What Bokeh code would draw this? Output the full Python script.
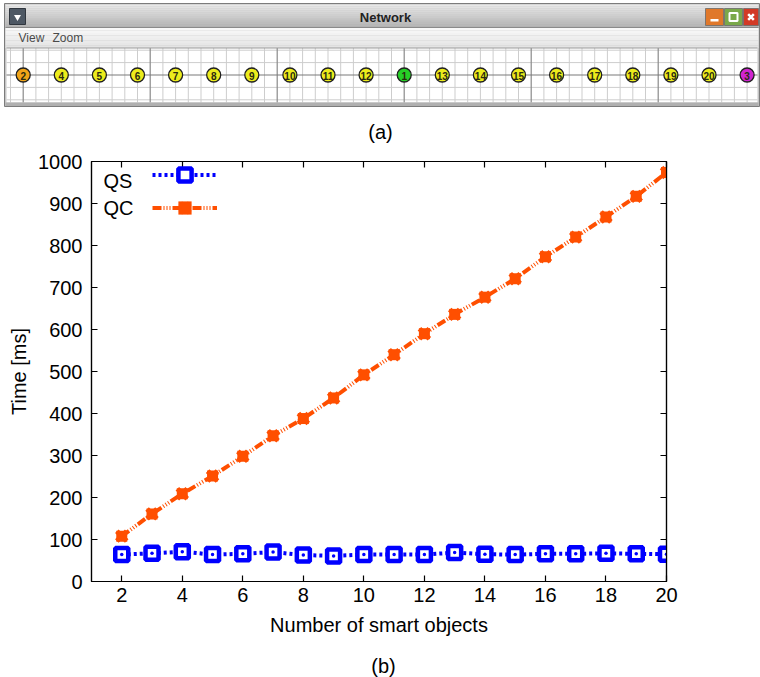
import numpy as np
from bokeh.plotting import figure
from bokeh.models import Range1d, LinearAxis, FixedTicker, Legend, LegendItem, Label
from bokeh.core.properties import value
from bokeh.embed import file_html
from bokeh.resources import INLINE

# ---------------- data ----------------
n_objects = [2, 3, 4, 5, 6, 7, 8, 9, 10, 11, 12, 13, 14, 15, 16, 17, 18, 19, 20]
qs_time = [64, 67, 71, 64, 66, 70, 63, 61, 64, 64, 64, 69, 65, 64, 66, 66, 67, 66, 65]
qc_time = [108, 161, 209, 251, 298, 347, 388, 437, 492, 540, 590, 636, 677, 721, 773, 820, 868, 917, 974]
x_ticks = [2, 4, 6, 8, 10, 12, 14, 16, 18, 20]
y_ticks = [0, 100, 200, 300, 400, 500, 600, 700, 800, 900, 1000]
series_names = ["QS", "QC"]

node_labels = ["2", "4", "5", "6", "7", "8", "9", "10", "11", "12", "1",
               "13", "14", "15", "16", "17", "18", "19", "20", "3"]
node_kind = ["first"] + ["object"] * 9 + ["gateway"] + ["object"] * 8 + ["last"]

FONT = "Liberation Sans"
BLUE = "#0000ff"
ORANGE = "#ff4f00"
kind_color = {"first": "#f0a418", "object": "#ecec1c", "gateway": "#26d026", "last": "#d024d0"}


def gradient(c0, c1, n):
    a = np.array([int(c0[i:i + 2], 16) for i in (1, 3, 5)], float)
    b = np.array([int(c1[i:i + 2], 16) for i in (1, 3, 5)], float)
    out = []
    for t in np.linspace(0, 1, n):
        c = a + (b - a) * t
        out.append("#%02x%02x%02x" % tuple(int(round(v)) for v in c))
    return out


# ---------------- (a) network window ----------------
pa = figure(width=760, height=145, x_range=Range1d(0, 760), y_range=Range1d(145, 0),
            x_axis_type=None, y_axis_type=None, toolbar_location=None,
            output_backend="svg", min_border=0)
pa.outline_line_color = None

pa.quad(left=4, right=759, top=3, bottom=106, fill_color="#c4c4c4", line_color="#7c7c7c", line_width=1)
tb = np.linspace(4, 27, 13)
pa.quad(left=5, right=758, top=tb[:-1], bottom=tb[1:], fill_color=gradient("#e8e8e8", "#b2b2b2", 12),
        line_color=None)
pa.segment(x0=[5], y0=[27], x1=[758], y1=[27], line_color="#8a8a8a", line_width=1)
pa.quad(left=9, right=25, top=8, bottom=24, fill_color="#4e5864", line_color="#30363e")
pa.scatter(x=[17], y=[16.5], marker="inverted_triangle", size=7, fill_color="white", line_color=None)
pa.quad(left=[705, 724, 743], right=[723, 742, 758], top=8, bottom=25,
        fill_color=["#e0782a", "#7aa84a", "#d23a26"], line_color="#6a6a6a", line_width=0.8)
pa.quad(left=710, right=718, top=18.5, bottom=21, fill_color="white", line_color=None)
pa.scatter(x=[733], y=[16.5], marker="square", size=8, fill_color=None, line_color="white", line_width=2)
pa.scatter(x=[750.5], y=[16.5], marker="x", size=8, line_color="white", line_width=2.5)
pa.text(x=[385], y=[16.5], text=["Network"], text_font=value(FONT), text_font_style="bold",
        text_font_size="13px", text_align="center", text_baseline="middle", text_color="#222222")
mb = np.linspace(27.5, 47.5, 9)
pa.quad(left=5, right=758, top=mb[:-1], bottom=mb[1:], fill_color=gradient("#f8f8f8", "#e4e4e4", 8),
        line_color=None)
pa.text(x=[18, 52], y=[37.5, 37.5], text=["View", "Zoom"], text_font=value(FONT),
        text_font_size="12px", text_align="left", text_baseline="middle", text_color="#4a4a4a")
pa.quad(left=6, right=757, top=47.5, bottom=102, fill_color="white", line_color=None)
step = 38.1 / 3
kk = np.arange(-1, 60)
gx = 22.7 + step * kk
keep = (gx > 6) & (gx < 757)
gx, kk = gx[keep], kk[keep]
minor_x = gx[kk % 10 != 0]
major_x = gx[kk % 10 == 0]
pa.segment(x0=minor_x, y0=47.5, x1=minor_x, y1=102, line_color="#cdcdcd", line_width=1)
gy = 74.5 + 12.4 * np.array([-2, -1, 1, 2])
pa.segment(x0=6, y0=gy, x1=757, y1=gy, line_color="#cdcdcd", line_width=1)
pa.segment(x0=major_x, y0=47.5, x1=major_x, y1=102, line_color="#8a8a8a", line_width=1.2)
pa.segment(x0=[6], y0=[74.5], x1=[757], y1=[74.5], line_color="#7a7a7a", line_width=1.2)
pa.segment(x0=[6], y0=[47.5], x1=[757], y1=[47.5], line_color="#9a9a9a", line_width=1)
pa.quad(left=5, right=758, top=102, bottom=105.5, fill_color="#b0b0b0", line_color=None)
node_x = 22.7 + 38.1 * np.arange(len(node_labels))
pa.scatter(x=node_x, y=74.5, size=14, fill_color=[kind_color[k] for k in node_kind],
           line_color="#202020", line_width=1.3)
pa.text(x=node_x, y=75, text=node_labels, text_font=value(FONT), text_font_size="10px",
        text_font_style="bold", text_align="center", text_baseline="middle", text_color="#2a2a10")
pa.text(x=[380], y=[131], text=["(a)"], text_font=value(FONT), text_font_size="20px",
        text_align="center", text_baseline="middle", text_color="black")

# ---------------- (b) timing chart ----------------
pb = figure(width=760, height=500, x_range=Range1d(1, 20), y_range=Range1d(0, 1000),
            toolbar_location=None, output_backend="svg",
            min_border_left=91, min_border_right=94, min_border_top=16, min_border_bottom=64)
pb.grid.visible = False
pb.outline_line_color = "black"
pb.outline_line_width = 1.2

bottom_ax = pb.xaxis[0]
left_ax = pb.yaxis[0]
bottom_ax.ticker = FixedTicker(ticks=x_ticks)
left_ax.ticker = FixedTicker(ticks=y_ticks)
bottom_ax.axis_label = "Number of smart objects"
left_ax.axis_label = "Time [ms]"

top_ax = LinearAxis(ticker=FixedTicker(ticks=x_ticks),
                    major_label_overrides={t: "" for t in x_ticks}, major_label_text_font_size="1px",
                    major_label_standoff=0)
right_ax = LinearAxis(ticker=FixedTicker(ticks=y_ticks),
                      major_label_overrides={t: "" for t in y_ticks}, major_label_text_font_size="1px",
                      major_label_standoff=0)
pb.add_layout(top_ax, "above")
pb.add_layout(right_ax, "right")

for ax in [bottom_ax, left_ax, top_ax, right_ax]:
    ax.major_tick_in = 6
    ax.major_tick_out = 0
    ax.minor_tick_in = 0
    ax.minor_tick_out = 0
    ax.major_tick_line_color = "black"
    ax.major_tick_line_width = 1.2
    ax.axis_line_color = "black"
    ax.axis_line_width = 1.2
    ax.major_label_text_font = FONT
    ax.major_label_text_color = "black"
    ax.axis_label_text_font = FONT
    ax.axis_label_text_font_style = "normal"
    ax.axis_label_text_font_size = "20px"
    ax.axis_label_text_color = "black"
for ax in [bottom_ax, left_ax]:
    ax.major_label_text_font_size = "20px"
bottom_ax.major_label_standoff = 6
bottom_ax.axis_label_standoff = 9
left_ax.major_label_standoff = 9
left_ax.axis_label_standoff = 5

qs_line = pb.line(n_objects, qs_time, line_color=BLUE, line_width=4, line_dash="3 3")
qs_sq = pb.scatter(n_objects, qs_time, marker="square", size=13, fill_color="white",
                   line_color=BLUE, line_width=4.5)
pb.scatter(n_objects, qs_time, marker="circle", size=3.5, fill_color=BLUE, line_color=None)
qc_line = pb.line(n_objects, qc_time, line_color=ORANGE, line_width=4, line_dash="9 2 1 2 1 2 1 2")
qc_sq = pb.scatter(n_objects, qc_time, marker="square", size=11, fill_color=ORANGE, line_color=None)
qc_x = pb.scatter(n_objects, qc_time, marker="x", size=14, line_color=ORANGE, line_width=5)

legend = Legend(items=[LegendItem(label=" ", renderers=[qs_line, qs_sq]),
                       LegendItem(label=" ", renderers=[qc_line, qc_sq, qc_x])],
                location=(61, 357.5), glyph_width=65, glyph_height=33, spacing=-6,
                padding=0, margin=0, border_line_color=None, background_fill_alpha=0,
                label_text_font_size="1px", label_standoff=0, label_width=0, label_height=20)
pb.add_layout(legend)

for name, yy in zip(series_names, [401, 374]):
    pb.add_layout(Label(x=12, y=yy, x_units="screen", y_units="screen", text=name,
                        text_font=FONT, text_font_size="20px", text_baseline="middle",
                        text_align="left", text_color="black"))

# ---------------- caption (b) ----------------
pc = figure(width=760, height=32, x_range=Range1d(0, 760), y_range=Range1d(677, 645),
            x_axis_type=None, y_axis_type=None, toolbar_location=None,
            output_backend="svg", min_border=0)
pc.outline_line_color = None
pc.text(x=[383], y=[665], text=["(b)"], text_font=value(FONT), text_font_size="20px",
        text_align="center", text_baseline="middle", text_color="black")

open("out.html", "w").write(file_html([pa, pb, pc], INLINE))
